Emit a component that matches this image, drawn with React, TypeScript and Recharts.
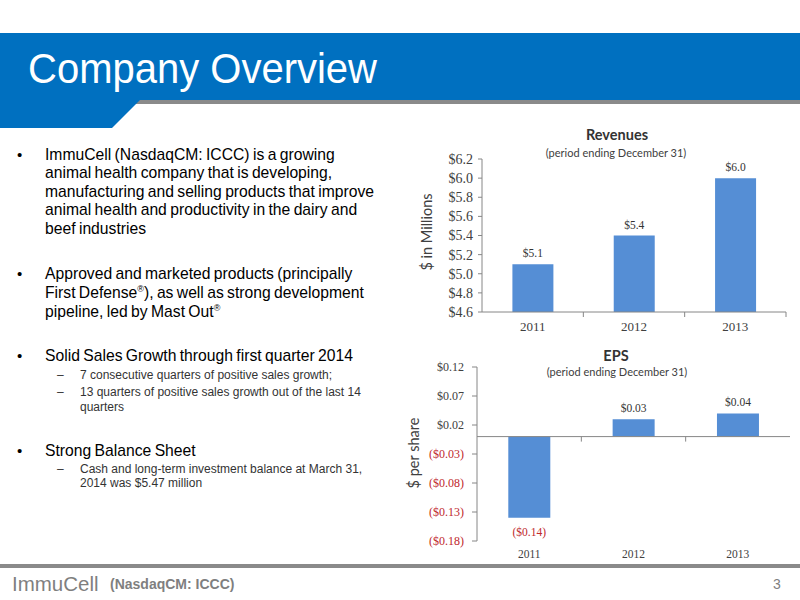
import React from 'react';
import { BarChart, Bar, XAxis, YAxis, LabelList, ReferenceLine } from 'recharts';

// ---------- data ----------
const years = ['2011', '2012', '2013'];
const revenues = [5.1, 5.4, 6.0];
const revenueTicks = [4.6, 4.8, 5.0, 5.2, 5.4, 5.6, 5.8, 6.0, 6.2];
const eps = [-0.14, 0.03, 0.04];
const epsTicks = [-0.18, -0.13, -0.08, -0.03, 0.02, 0.07, 0.12];

const revenueData = years.map((y, i) => ({ year: y, value: revenues[i] }));
const epsData = years.map((y, i) => ({ year: y, value: eps[i] }));

// ---------- styles ----------
const SERIF = '"Liberation Serif", "DejaVu Serif", serif';
const TITLE_FONT = 'Lato, "Open Sans", sans-serif';
const ARIAL = '"Liberation Sans", Arial, sans-serif';
const BAR = '#558ED5';
const AXIS = '#868686';
const TXT = '#404040';
const RED = '#C0282D';
const BLUE = '#0070C0';

const fmtRev = (v: number) => `$${v.toFixed(1)}`;
const fmtEps = (v: number) => (v < 0 ? `($${Math.abs(v).toFixed(2)})` : `$${v.toFixed(2)}`);

const RevXTick = (props: any) => {
  const { x, y, payload } = props;
  const off = payload?.offset ?? 0;
  return (
    <g>
      {off > 0 && <line x1={x + off} x2={x + off} y1={y - 8} y2={y - 3} stroke={AXIS} />}
      <text x={x} y={y} dy={11} textAnchor="middle" fontFamily={SERIF} fontSize={13} fill={TXT}>
        {payload.value}
      </text>
    </g>
  );
};

const EpsXTick = (props: any) => {
  const { x, y, payload } = props;
  return (
    <text x={x} y={y} dy={11} textAnchor="middle" fontFamily={SERIF} fontSize={11.5} fill={TXT}>
      {payload.value}
    </text>
  );
};

const EpsYTick = (props: any) => {
  const { x, y, payload } = props;
  const v = payload.value as number;
  return (
    <text x={x} y={y} dy={4} textAnchor="end" fontFamily={SERIF} fontSize={12} fill={v < 0 ? RED : TXT}>
      {fmtEps(v)}
    </text>
  );
};

const RevLabel = (props: any) => {
  const { x, y, width, height, value } = props;
  const top = Math.min(y, y + height);
  return (
    <text x={x + width / 2} y={top - 7} textAnchor="middle" fontFamily={SERIF} fontSize={11.5} fill="#333">
      {fmtRev(value)}
    </text>
  );
};

const EpsLabel = (props: any) => {
  const { x, y, width, height, value } = props;
  const top = Math.min(y, y + height);
  const bottom = Math.max(y, y + height);
  const neg = value < 0;
  return (
    <text
      x={x + width / 2}
      y={neg ? bottom + 18 : top - 7}
      textAnchor="middle"
      fontFamily={SERIF}
      fontSize={11.5}
      fill={neg ? RED : '#333'}
    >
      {fmtEps(value)}
    </text>
  );
};

const ZeroLine = (props: any) => {
  const { x1, y1, x2, y2 } = props;
  const n = years.length;
  const marks = [];
  for (let k = 1; k < n; k++) {
    const xx = x1 + ((x2 - x1) * k) / n;
    marks.push(<line key={k} x1={xx} x2={xx} y1={y1} y2={y1 + 5} stroke={AXIS} />);
  }
  return (
    <g>
      <line x1={x1} y1={y1} x2={x2} y2={y2} stroke={AXIS} strokeWidth={1} />
      {marks}
    </g>
  );
};

const abs = (s: React.CSSProperties): React.CSSProperties => ({ position: 'absolute', whiteSpace: 'nowrap', ...s });

const Reg = () => (
  <span style={{ fontSize: 9, position: 'relative', top: -6, lineHeight: 0 }}>®</span>
);

const Bullet = ({ top, lh, children }: { top: number; lh: number; children: React.ReactNode }) => (
  <>
    <div style={abs({ left: 17, top, fontFamily: ARIAL, fontSize: 15, lineHeight: `${lh}px`, color: '#000' })}>•</div>
    <div style={abs({ left: 45, top, fontFamily: ARIAL, fontSize: 15.7, lineHeight: `${lh}px`, color: '#000', wordSpacing: -1 })}>
      {children}
    </div>
  </>
);

const Sub = ({ top, lh, children }: { top: number; lh: number; children: React.ReactNode }) => (
  <>
    <div style={abs({ left: 57, top, fontFamily: ARIAL, fontSize: 12, lineHeight: `${lh}px`, color: '#333' })}>–</div>
    <div style={abs({ left: 80, top, fontFamily: ARIAL, fontSize: 12, lineHeight: `${lh}px`, color: '#333' })}>
      {children}
    </div>
  </>
);

export default function App() {
  return (
    <div style={{ position: 'absolute', left: 0, top: 0, width: 800, height: 600, background: '#fff', overflow: 'hidden' }}>
      {/* header */}
      <div style={abs({ left: 0, top: 33, width: 800, height: 67, background: BLUE })} />
      <div style={abs({ left: 130, top: 100, width: 670, height: 4, background: '#8a8a8a' })} />
      <svg style={{ position: 'absolute', left: 0, top: 100 }} width={170} height={30}>
        <polygon points="0,0 140,0 112,28 0,28" fill={BLUE} />
      </svg>
      <div
        style={abs({
          left: 28,
          top: 49,
          fontFamily: ARIAL,
          fontSize: 40,
          lineHeight: '40px',
          color: '#fff',
          transform: 'scaleY(1.08)',
          transformOrigin: '0 34px',
        })}
      >
        Company Overview
      </div>

      {/* bullets */}
      <Bullet top={146} lh={18.4}>
        ImmuCell (NasdaqCM: ICCC) is a growing
        <br />
        animal health company that is developing,
        <br />
        manufacturing and selling products that improve
        <br />
        animal health and productivity in the dairy and
        <br />
        beef industries
      </Bullet>
      <Bullet top={264} lh={19}>
        Approved and marketed products (principally
        <br />
        First Defense<Reg />), as well as strong development
        <br />
        pipeline, led by Mast Out<Reg />
      </Bullet>
      <Bullet top={347} lh={18.4}>
        Solid Sales Growth through first quarter 2014
      </Bullet>
      <Sub top={368} lh={14.5}>7 consecutive quarters of positive sales growth;</Sub>
      <Sub top={385} lh={14.5}>
        13 quarters of positive sales growth out of the last 14
        <br />
        quarters
      </Sub>
      <Bullet top={442} lh={18.4}>
        Strong Balance Sheet
      </Bullet>
      <Sub top={463} lh={13.5}>
        Cash and long-term investment balance at March 31,
        <br />
        2014 was $5.47 million
      </Sub>

      {/* revenue chart titles */}
      <div style={abs({ left: 617, top: 134, transform: 'translate(-50%, -50%)', fontFamily: TITLE_FONT, fontWeight: 700, fontSize: 14.5, color: '#333' })}>
        Revenues
      </div>
      <div style={abs({ left: 616, top: 152, transform: 'translate(-50%, -50%)', fontFamily: TITLE_FONT, fontSize: 11, color: TXT })}>
        (period ending December 31)
      </div>
      <div style={abs({ left: 426, top: 232, transform: 'translate(-50%, -50%) rotate(-90deg)', fontFamily: TITLE_FONT, fontSize: 14.5, color: TXT })}>
        $ in Millions
      </div>

      <div style={abs({ left: 400, top: 150 })}>
        <BarChart width={400} height={190} data={revenueData} margin={{ top: 9, right: 14, left: 20, bottom: 4 }} barCategoryGap="30%">
          <XAxis
            dataKey="year"
            height={24}
            axisLine={{ stroke: AXIS }}
            tickLine={false}
            tickSize={0}
            tickMargin={8}
            tick={<RevXTick />}
          />
          <YAxis
            width={62}
            domain={[4.6, 6.2]}
            ticks={revenueTicks}
            interval={0}
            allowDataOverflow
            axisLine={{ stroke: AXIS }}
            tickLine={{ stroke: AXIS }}
            tickSize={4}
            tickMargin={5}
            tickFormatter={fmtRev}
            tick={{ fontFamily: SERIF, fontSize: 14, fill: TXT }}
          />
          <Bar dataKey="value" fill={BAR} isAnimationActive={false}>
            <LabelList dataKey="value" content={<RevLabel />} />
          </Bar>
        </BarChart>
      </div>

      {/* EPS chart titles */}
      <div style={abs({ left: 616, top: 355, transform: 'translate(-50%, -50%)', fontFamily: TITLE_FONT, fontWeight: 700, fontSize: 14.5, color: '#333' })}>
        EPS
      </div>
      <div style={abs({ left: 617, top: 371, transform: 'translate(-50%, -50%)', fontFamily: TITLE_FONT, fontSize: 11, color: TXT })}>
        (period ending December 31)
      </div>
      <div style={abs({ left: 413, top: 453, transform: 'translate(-50%, -50%) rotate(-90deg)', fontFamily: TITLE_FONT, fontSize: 14.5, color: TXT })}>
        $ per share
      </div>

      <div style={abs({ left: 400, top: 360 })}>
        <BarChart width={400} height={210} data={epsData} margin={{ top: 7, right: 10, left: 20, bottom: 5 }} barCategoryGap="30%">
          <XAxis
            dataKey="year"
            height={24}
            axisLine={false}
            tickLine={false}
            tickSize={0}
            tickMargin={6}
            tick={<EpsXTick />}
          />
          <YAxis
            width={57}
            domain={[-0.18, 0.12]}
            ticks={epsTicks}
            interval={0}
            allowDataOverflow
            axisLine={{ stroke: AXIS }}
            tickLine={{ stroke: AXIS }}
            tickSize={5}
            tickMargin={8}
            tick={<EpsYTick />}
          />
          <Bar dataKey="value" fill={BAR} isAnimationActive={false}>
            <LabelList dataKey="value" content={<EpsLabel />} />
          </Bar>
          <ReferenceLine y={0} shape={<ZeroLine />} />
        </BarChart>
      </div>

      {/* footer */}
      <div style={abs({ left: 0, top: 564, width: 800, height: 4, background: '#8a8a8a' })} />
      <div style={abs({ left: 12, top: 584, transform: 'translateY(-50%)', fontFamily: ARIAL, fontSize: 20.5, color: '#7f7f7f' })}>
        ImmuCell
      </div>
      <div style={abs({ left: 110, top: 584, transform: 'translateY(-50%)', fontFamily: ARIAL, fontWeight: 700, fontSize: 14, color: '#7f7f7f' })}>
        (NasdaqCM: ICCC)
      </div>
      <div style={abs({ left: 773, top: 584, transform: 'translateY(-50%)', fontFamily: ARIAL, fontSize: 14, color: '#7f7f7f' })}>
        3
      </div>
    </div>
  );
}
